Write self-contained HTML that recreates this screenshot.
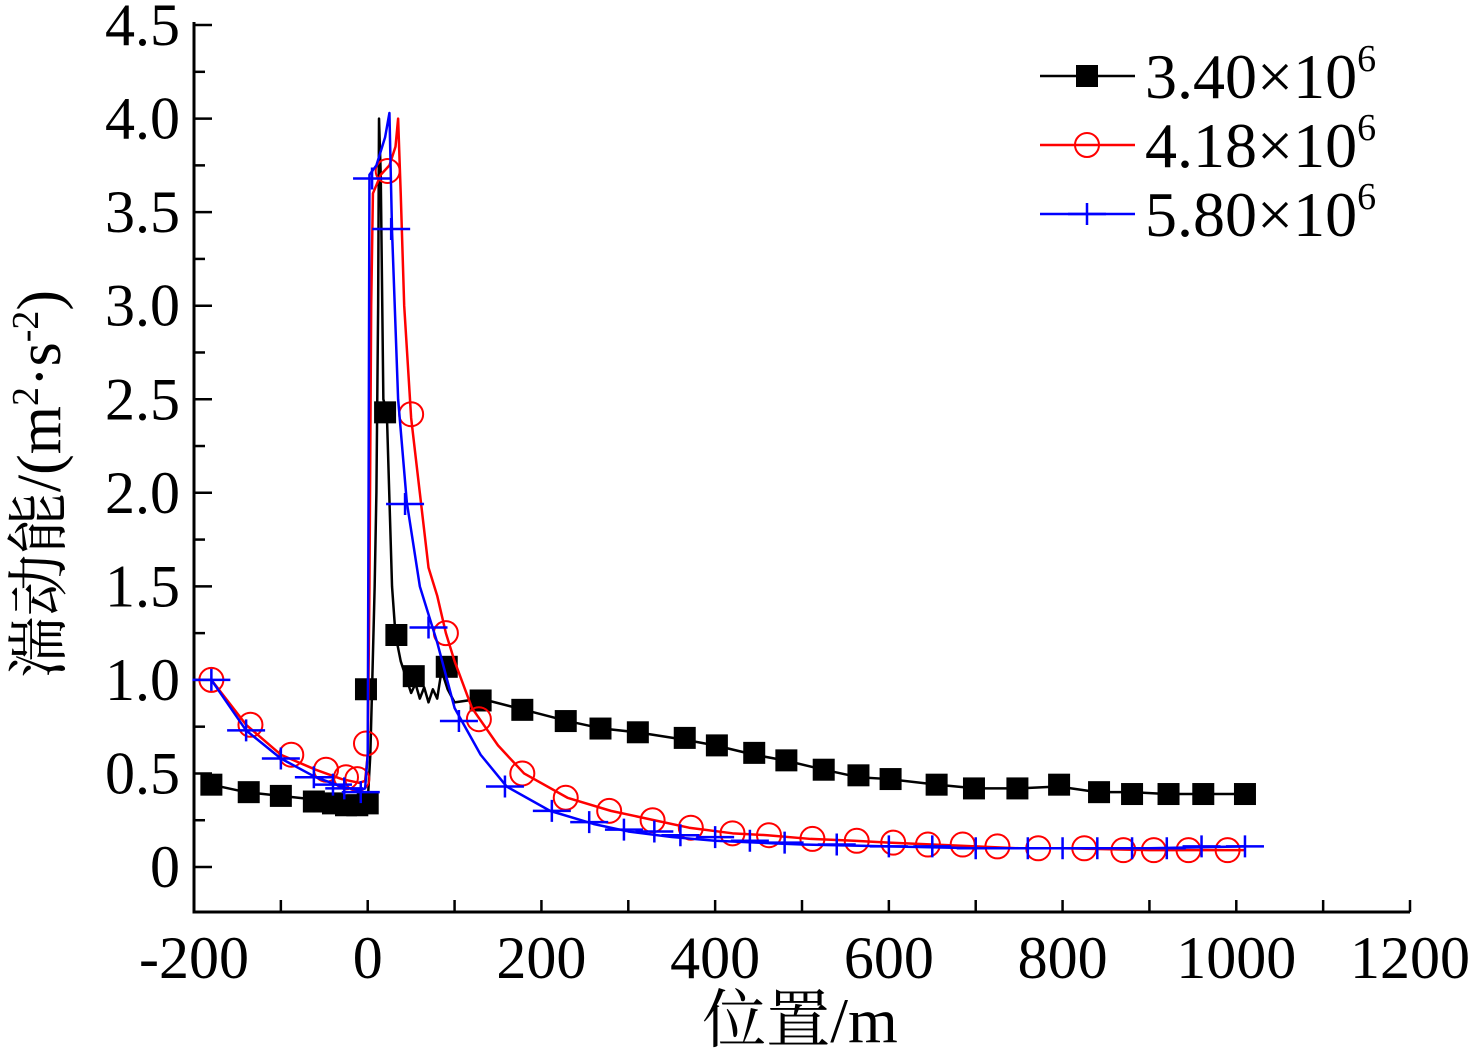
<!DOCTYPE html>
<html><head><meta charset="utf-8"><style>
html,body{margin:0;padding:0;background:#fff;}
svg{display:block;font-family:"Liberation Serif","Noto Serif CJK SC",serif;}
</style></head><body>
<svg id="chart" width="1474" height="1051" viewBox="0 0 1474 1051" xmlns="http://www.w3.org/2000/svg">
<g id="axes"></g>
<g id="series"></g>
<g id="legend"></g>
<text x="800" y="1042" font-size="64" text-anchor="middle">位置/m</text>
<text transform="translate(60,484) rotate(-90)" font-size="62" text-anchor="middle">湍动能/(m<tspan font-size="38" dy="-22">2</tspan><tspan dy="22">·s</tspan><tspan font-size="38" dy="-22">-2</tspan><tspan dy="22">)</tspan></text>
</svg>
<script>
const xTicks=[-200,0,200,400,600,800,1000,1200];
const yTicks=[0,0.5,1.0,1.5,2.0,2.5,3.0,3.5,4.0,4.5];
const yTickLabels=["0","0.5","1.0","1.5","2.0","2.5","3.0","3.5","4.0","4.5"];
const seriesNames=["3.40×10","4.18×10","5.80×10"];
const blackLineX=[-180,-140,-100,-60,-40,-25,-10,0,3,5,8,10,12,13,15,18,22,28,32,38,45,50,55,60,65,70,75,80,85,92,100,130,180,230,270,310,365,400,445,480,525,565,600,655,700,750,795,840,880,920,960,1010];
const blackLineY=[0.44,0.40,0.38,0.36,0.35,0.34,0.34,0.35,0.6,0.95,1.5,2.0,3.0,4.0,3.7,2.5,2.43,1.5,1.24,1.1,1.0,0.93,0.98,0.9,0.96,0.88,0.95,0.9,1.05,0.95,0.88,0.9,0.84,0.78,0.74,0.72,0.68,0.65,0.6,0.57,0.52,0.48,0.47,0.44,0.42,0.42,0.43,0.40,0.40,0.39,0.39,0.39];
const blackMarkX=[-180,-137,-100,-62,-40,-25,-12,0,-2,20,33,53,91,130,178,228,268,311,365,402,445,482,525,565,602,655,698,748,796,842,880,922,962,1010];
const blackMarkY=[0.44,0.40,0.38,0.35,0.34,0.33,0.33,0.34,0.95,2.43,1.24,1.02,1.07,0.89,0.84,0.78,0.74,0.72,0.69,0.65,0.61,0.57,0.52,0.49,0.47,0.44,0.42,0.42,0.44,0.40,0.39,0.39,0.39,0.39];
const redLineX=[-180,-140,-100,-60,-30,-10,-3,0,2,4,6,15,25,32,35,38,42,50,60,70,80,90,100,120,150,180,230,280,330,370,420,460,510,560,600,650,700,750,800,900,1010];
const redLineY=[1.0,0.76,0.60,0.52,0.47,0.45,0.46,0.6,1.5,3.0,3.6,3.7,3.75,3.85,4.0,3.6,3.0,2.4,2.0,1.6,1.45,1.25,1.1,0.85,0.65,0.5,0.37,0.3,0.25,0.21,0.18,0.17,0.15,0.14,0.13,0.12,0.11,0.10,0.10,0.09,0.09];
const redMarkX=[-180,-135,-88,-48,-25,-12,-2,23,50,90,128,178,228,278,328,372,420,462,512,563,605,645,685,725,772,825,870,905,945,990];
const redMarkY=[1.0,0.76,0.60,0.52,0.48,0.47,0.66,3.72,2.42,1.25,0.79,0.5,0.37,0.30,0.25,0.21,0.18,0.17,0.15,0.14,0.13,0.12,0.12,0.11,0.10,0.10,0.09,0.09,0.09,0.09];
const blueLineX=[-180,-140,-100,-60,-30,-10,-3,0,1,2,10,20,25,28,35,45,60,80,100,130,160,210,260,300,350,400,500,600,700,800,900,1010];
const blueLineY=[1.0,0.73,0.58,0.48,0.43,0.41,0.42,0.6,2.0,3.7,3.75,3.9,4.03,3.4,2.5,1.95,1.5,1.2,0.85,0.6,0.43,0.3,0.23,0.19,0.16,0.14,0.12,0.11,0.10,0.10,0.10,0.11];
const blueMarkX=[-180,-140,-100,-62,-40,-27,-8,5,27,43,70,105,158,212,255,295,330,360,400,440,480,540,600,650,700,760,800,840,880,920,960,1010];
const blueMarkY=[1.0,0.73,0.58,0.48,0.44,0.42,0.40,3.68,3.41,1.94,1.28,0.78,0.43,0.30,0.24,0.20,0.19,0.17,0.16,0.14,0.13,0.12,0.11,0.11,0.10,0.10,0.10,0.10,0.10,0.10,0.11,0.11];

const NS="http://www.w3.org/2000/svg";
const X0=194,X1=1410,XMIN=-200,XMAX=1200,Y0=867,PXY=187.1,AXB=912;
const sx=v=>X0+(v-XMIN)*(X1-X0)/(XMAX-XMIN);
const sy=v=>Y0-v*PXY;
function mk(tag,attrs,parent){const e=document.createElementNS(NS,tag);for(const k in attrs)e.setAttribute(k,attrs[k]);parent.appendChild(e);return e;}
const axes=document.getElementById('axes');
let l=mk('line',{x1:X0,y1:22,x2:X0,y2:AXB+1.5,stroke:'#000','stroke-width':3},axes);


l=mk('line',{x1:X0-1.5,y1:AXB,x2:X1,y2:AXB,stroke:'#000','stroke-width':3},axes);


for(let v=XMIN;v<=XMAX;v+=100){
  const t=mk('line',{x1:sx(v),y1:AXB,x2:sx(v),y2:AXB-12,stroke:'#000','stroke-width':2.5},axes);
  
  
}
xTicks.forEach(v=>{
  const t=mk('text',{x:sx(v),y:978,'font-size':60,'text-anchor':'middle'},axes);
  t.textContent=String(v);
  
  
});
for(let v=0;v<=4.5001;v+=0.25){
  const major=Math.abs(v*2-Math.round(v*2))<1e-6;
  const t=mk('line',{x1:X0,y1:sy(v),x2:X0+(major?18:11),y2:sy(v),stroke:'#000','stroke-width':2.5},axes);
  
  
}
yTicks.forEach((v,i)=>{
  const t=mk('text',{x:180,y:sy(v)+20,'font-size':60,'text-anchor':'end'},axes);
  t.textContent=yTickLabels[i];
  
  
});
function marker(g,type,x,y,color){
  let m;
  if(type==='square'){m=mk('rect',{x:x-11,y:y-11,width:22,height:22,fill:color},g);}
  else if(type==='circle'){m=mk('circle',{cx:x,cy:y,r:12,fill:'none',stroke:color,'stroke-width':2},g);}
  else {m=mk('path',{d:`M${x-19},${y}H${x+19}M${x},${y-11}V${y+11}`,stroke:color,'stroke-width':2.5,fill:'none'},g);}
  return m;
}
const ser=document.getElementById('series');
const defs=[[blackLineX,blackLineY,blackMarkX,blackMarkY,'#000','square','black'],[redLineX,redLineY,redMarkX,redMarkY,'#f00','circle','red'],[blueLineX,blueLineY,blueMarkX,blueMarkY,'#00f','plus','blue']];
defs.forEach(d=>{
  const g=mk('g',{},ser);
  
  
  const p=mk('polyline',{points:d[0].map((x,i)=>sx(x)+','+sy(d[1][i])).join(' '),fill:'none',stroke:d[4],'stroke-width':2.5,'stroke-linejoin':'round'},g);
  
  
  d[2].forEach((x,i)=>{
    const m=marker(g,d[5],sx(x),sy(d[3][i]),d[4]);
    
    
  });
});
const leg=document.getElementById('legend');
defs.forEach((d,i)=>{
  const y=76+i*69;
  const g=mk('g',{},leg);
  
  
  mk('line',{x1:1040,y1:y,x2:1135,y2:y,stroke:d[4],'stroke-width':2.5},g);
  marker(g,d[5],1087,y,d[4]);
  const t=mk('text',{x:1145,y:y+22,'font-size':64},g);
  t.textContent=seriesNames[i];
  const s=mk('tspan',{'font-size':38,dy:-27},t);
  s.textContent='6';
});
</script>
</body></html>
